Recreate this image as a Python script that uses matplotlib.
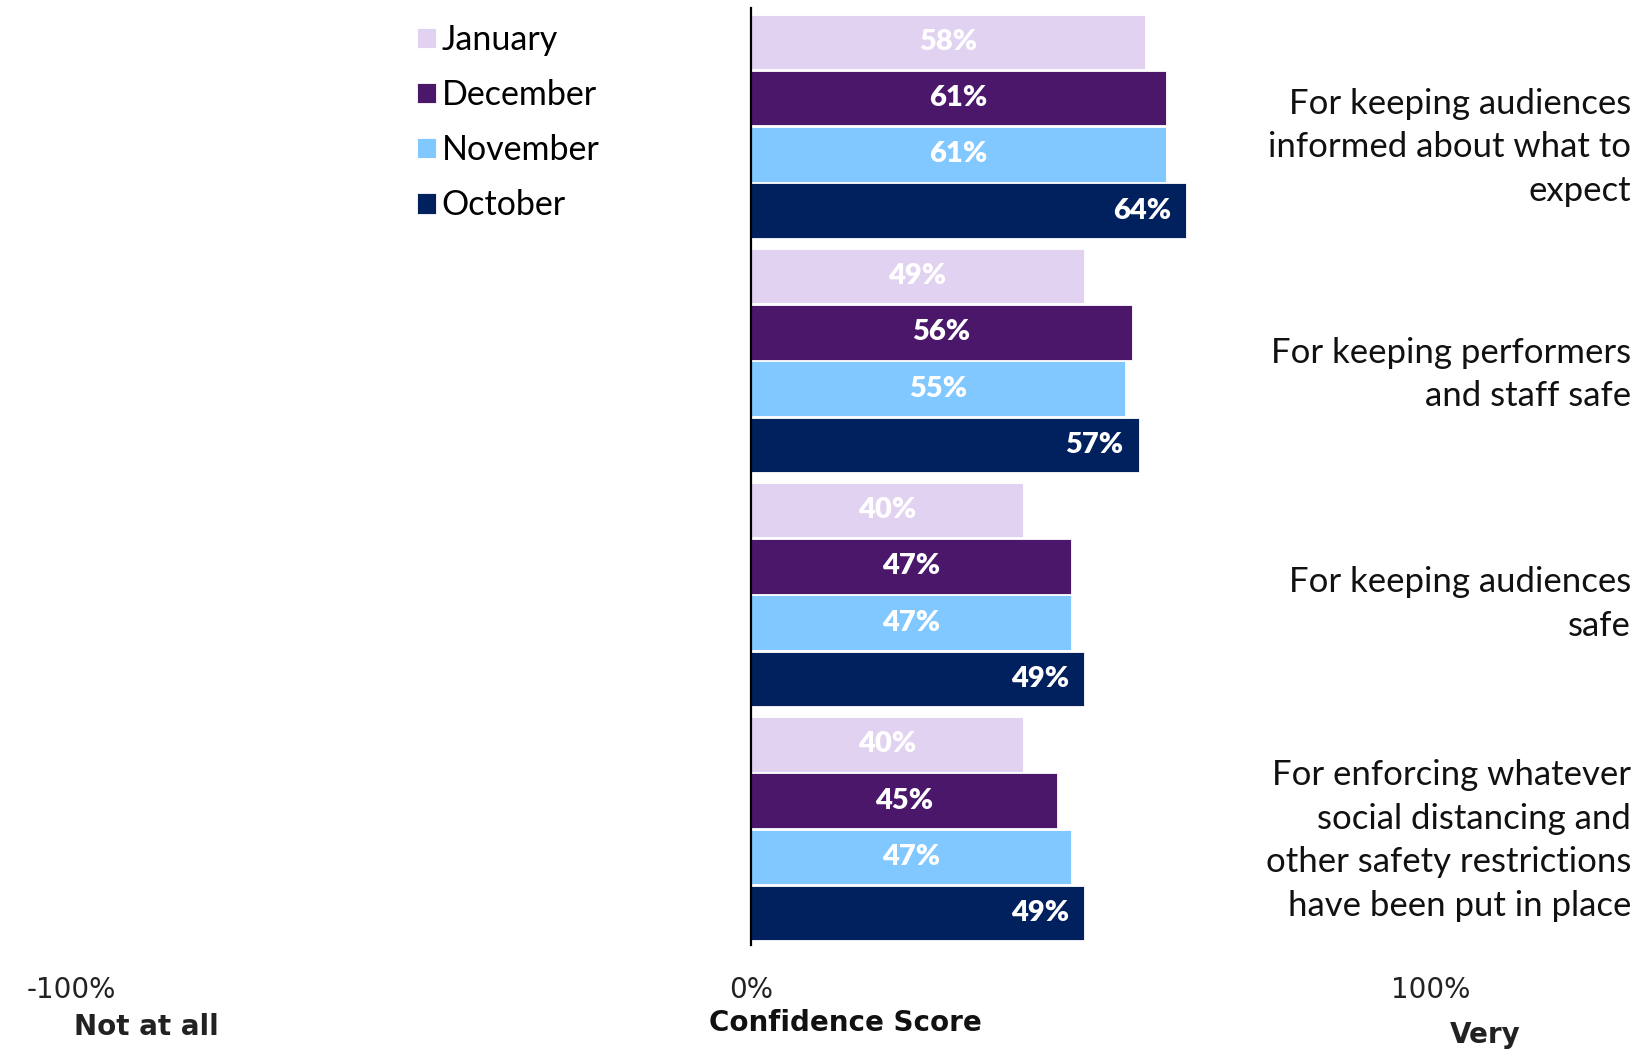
import matplotlib.pyplot as plt
import numpy as np

# data
categories = [
    "For keeping audiences\ninformed about what to\nexpect",
    "For keeping performers\nand staff safe",
    "For keeping audiences\nsafe",
    "For enforcing whatever\nsocial distancing and\nother safety restrictions\nhave been put in place",
]
months = ["January", "December", "November", "October"]
january = [58, 49, 40, 40]
december = [61, 56, 47, 45]
november = [61, 55, 47, 47]
october = [64, 57, 49, 49]

colors = ["#E2D2F2", "#4A176B", "#80C8FF", "#00205E"]
series = [january, december, november, october]

W, H = 1652, 1052
fig = plt.figure(figsize=(W / 100, H / 100), dpi=100)
# axes spans full width; y from pixel 8 to 945
ax = fig.add_axes([0, 1 - 945 / H, 1, (945 - 8) / H])

x_left = -751 / 6.8
x_right = (W - 751) / 6.8
ax.set_xlim(x_left, x_right)
ax.set_ylim(3.497, -0.5056)

y = np.arange(len(categories))
offsets = [-0.36, -0.12, 0.12, 0.36]
bar_h = 0.232

for i, (m, vals, c) in enumerate(zip(months, series, colors)):
    bars = ax.barh(y + offsets[i], vals, height=bar_h, color=c, label=m,
                   edgecolor="white", linewidth=0.6)
    for b, v in zip(bars, vals):
        yc = b.get_y() + b.get_height() / 2
        if m == "October":
            ax.text(v - 2.2, yc, f"{v}%", ha="right", va="center", color="white",
                    fontsize=21, fontweight="heavy", family="Lato")
        else:
            ax.text(v / 2, yc, f"{v}%", ha="center", va="center", color="white",
                    fontsize=21, fontweight="heavy", family="Lato")

# category labels on the right
label_shift = [0.09, 0.06, 0.04, 0.05]
for yi, cat, dy in zip(y, categories, label_shift):
    ax.text(129.4, yi + dy, cat, ha="right", va="center", fontsize=25,
            family="Lato", color="#111111", linespacing=1.45)

for s in ["top", "right", "bottom"]:
    ax.spines[s].set_visible(False)
ax.spines["left"].set_position(("data", 0))
ax.spines["left"].set_linewidth(1.6)
ax.set_yticks([])
ax.set_xticks([-100, 0, 100])
ax.set_xticklabels(["-100%", "0%", "100%"], family=["Liberation Sans Narrow", "DejaVu Sans"],
                   fontsize=20, color="#222222")
ax.tick_params(axis="x", length=0, pad=22)

tr = ax.get_xaxis_transform()
ax.text((146 - 751) / 6.8, 1 - (1027 - 8) / (945 - 8), "Not at all", transform=tr,
        ha="center", va="center", fontsize=20, fontweight="bold",
        family=["Liberation Sans Narrow", "DejaVu Sans"], color="#222222")
ax.text((845 - 751) / 6.8, 1 - (1023 - 8) / (945 - 8), "Confidence Score", transform=tr,
        ha="center", va="center", fontsize=20, fontweight="bold",
        family=["Liberation Sans Narrow", "DejaVu Sans"], color="#111111")
ax.text((1485 - 751) / 6.8, 1 - (1035 - 8) / (945 - 8), "Very", transform=tr,
        ha="center", va="center", fontsize=20, fontweight="bold",
        family=["Liberation Sans Narrow", "DejaVu Sans"], color="#222222")

leg = ax.legend(loc="upper left", bbox_to_anchor=(417 / W, 1 - 24 / H),
                bbox_transform=fig.transFigure, frameon=False,
                prop={"family": "Lato", "size": 24.5}, handlelength=0.55,
                handleheight=0.55, handletextpad=0.18, labelspacing=0.68,
                borderpad=0, borderaxespad=0)

fig.savefig("out.png", dpi=100)
